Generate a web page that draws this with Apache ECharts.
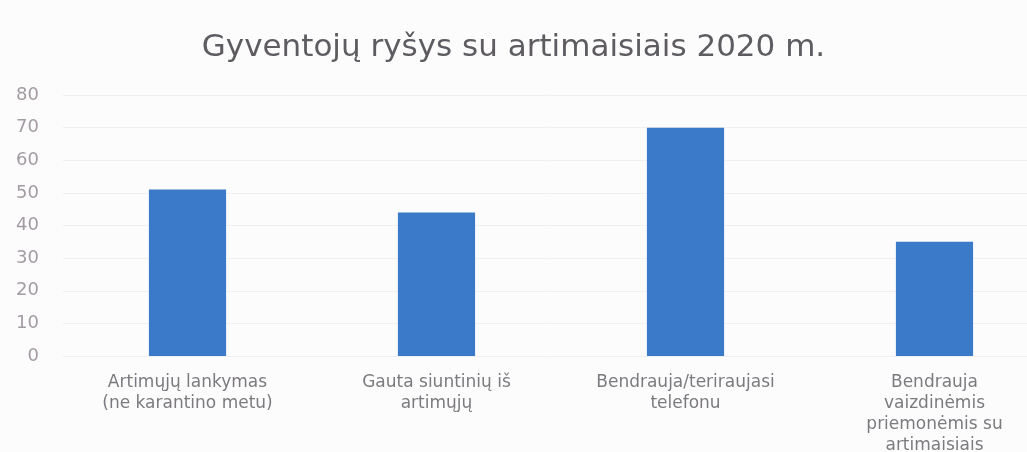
<!DOCTYPE html>
<html>
<head>
<meta charset="utf-8">
<script src="https://cdn.jsdelivr.net/npm/echarts@6/dist/echarts.min.js"></script>
<style>
  html, body { margin: 0; padding: 0; background: #fdfcfd; }
  #chart { width: 1027px; height: 452px; }
</style>
</head>
<body>
<div id="chart"></div>
<script>
// duomenys
const categories = [
  'Artimųjų lankymas\n(ne karantino metu)',
  'Gauta siuntinių iš\nartimųjų',
  'Bendrauja/teriraujasi\ntelefonu',
  'Bendrauja\nvaizdinėmis\npriemonėmis su\nartimaisiais'
];
const values = [51, 44, 70, 35];
const yTicks = [0, 10, 20, 30, 40, 50, 60, 70, 80];

const chart = echarts.init(document.getElementById('chart'));

const option = {
  animation: false,
  backgroundColor: '#fdfcfd',
  title: {
    text: 'Gyventojų ryšys su artimaisiais 2020 m.',
    left: 'center',
    top: 27,
    textStyle: {
      fontFamily: 'DejaVu Sans',
      fontSize: 31,
      fontWeight: 'normal',
      color: '#5e5c60'
    }
  },
  grid: {
    left: 63,
    width: 996,
    top: 95,
    height: 261,
    containLabel: false,
    outerBoundsMode: 'none'
  },
  xAxis: {
    type: 'category',
    data: categories,
    axisLine: {show: false},
    axisTick: {show: false},
    axisLabel: {
      margin: 16,
      interval: 0,
      fontFamily: 'DejaVu Sans',
      fontSize: 17,
      lineHeight: 21,
      color: '#7c7a7e'
    }
  },
  yAxis: {
    type: 'value',
    min: yTicks[0],
    max: yTicks[yTicks.length - 1],
    interval: 10,
    axisLine: {show: false},
    axisTick: {show: false},
    axisLabel: {
      margin: 24,
      fontFamily: 'DejaVu Sans',
      fontSize: 18,
      color: '#a29ca2'
    },
    splitLine: {
      lineStyle: {color: '#f1eff1', width: 1}
    }
  },
  series: [
    {
      type: 'bar',
      data: values,
      barWidth: '31%',
      itemStyle: {color: '#3b7ac8'}
    }
  ]
};

chart.setOption(option);
</script>
</body>
</html>
